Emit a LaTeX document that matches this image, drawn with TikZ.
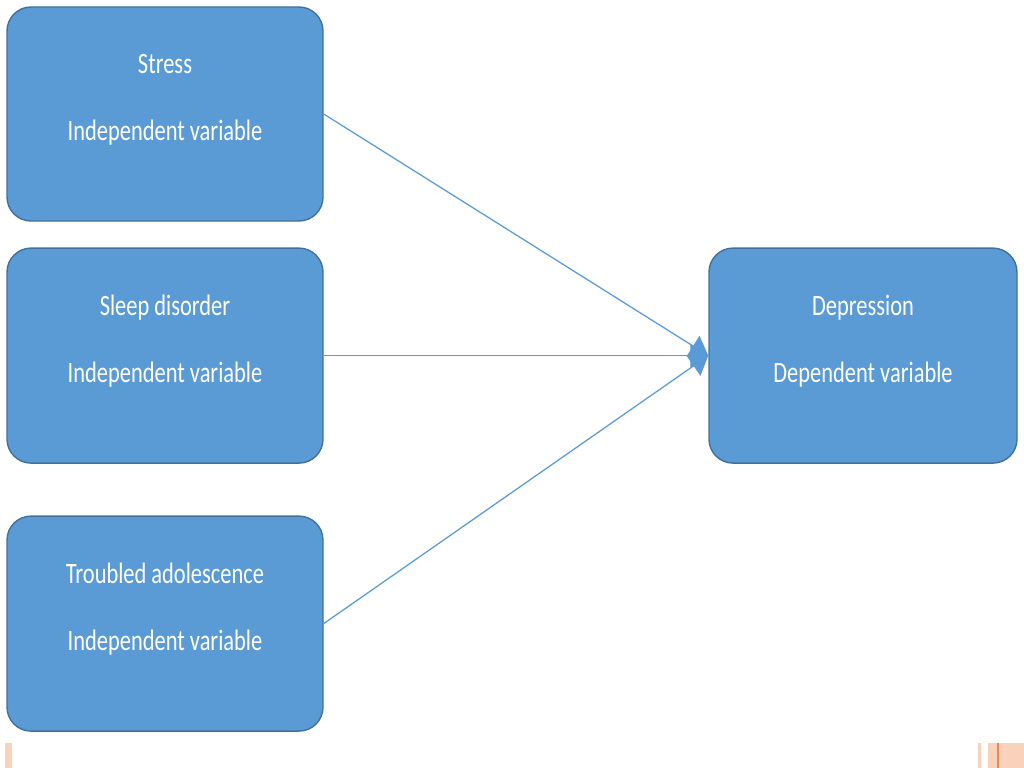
\documentclass[tikz,border=0pt]{standalone}
\usepackage{fontspec}
\setmainfont{Carlito}[FakeStretch=0.76]
\usetikzlibrary{arrows.meta}
\definecolor{boxblue}{HTML}{5B9BD5}
\definecolor{boxedge}{HTML}{41719C}
\definecolor{barpale}{HTML}{FAD2BC}
\definecolor{bardark}{HTML}{E98A52}
\begin{document}
\begin{tikzpicture}[
    varbox/.style={draw=boxedge, line width=1pt, fill=boxblue, rounded corners=0.6cm,
        text=white, align=center, font=\fontsize{21}{23.85}\selectfont},
    link/.style={draw=boxblue, line width=0.9pt, -{Triangle[length=0.45cm, width=0.6cm]}}]
    \useasboundingbox (0,0) rectangle (25.6,-19.2);

    % Independent variables
    \node[varbox, minimum width=7.9cm, minimum height=5.35cm] (stress) at (4.125,-2.85)
        {Stress\\\mbox{}\\Independent variable\\\mbox{}};
    \node[varbox, minimum width=7.9cm, minimum height=5.375cm] (sleep) at (4.125,-8.89)
        {Sleep disorder\\\mbox{}\\Independent variable\\\mbox{}};
    \node[varbox, minimum width=7.9cm, minimum height=5.375cm] (troubled) at (4.125,-15.59)
        {Troubled adolescence\\\mbox{}\\Independent variable\\\mbox{}};

    % Dependent variable
    \node[varbox, minimum width=7.7cm, minimum height=5.375cm] (depression) at (21.575,-8.89)
        {Depression\\\mbox{}\\Dependent variable\\\mbox{}};

    % Links
    \draw[link] (stress.east) -- (depression.west);
    \draw[link] (sleep.east) -- (depression.west);
    \draw[link] (troubled.east) -- (depression.west);

    % Slide edge bars
    \fill[barpale] (0.125,-18.575) rectangle (0.3,-19.2);
    \fill[barpale] (24.45,-18.575) rectangle (24.53,-19.2);
    \fill[barpale] (24.7,-18.575) rectangle (24.93,-19.2);
    \fill[bardark] (24.93,-18.575) rectangle (24.98,-19.2);
    \fill[barpale] (24.98,-18.575) rectangle (25.6,-19.2);
\end{tikzpicture}
\end{document}
